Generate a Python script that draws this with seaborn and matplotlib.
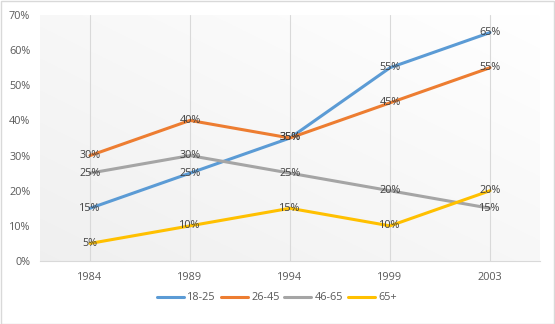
import numpy as np
import pandas as pd
import matplotlib
matplotlib.use("Agg")
import matplotlib.pyplot as plt
import seaborn as sns
from matplotlib.patches import Rectangle

years = ["1984", "1989", "1994", "1999", "2003"]
series_names = ["18-25", "26-45", "46-65", "65+"]
v_18_25 = [15, 25, 35, 55, 65]
v_26_45 = [30, 40, 35, 45, 55]
v_46_65 = [25, 30, 25, 20, 15]
v_65p = [5, 10, 15, 10, 20]
y_ticks = [0, 10, 20, 30, 40, 50, 60, 70]

colors = ["#5B9BD5", "#ED7D31", "#A5A5A5", "#FFC000"]

rows = []
for name, vals in zip(series_names, [v_18_25, v_26_45, v_46_65, v_65p]):
    for i, (yr, v) in enumerate(zip(years, vals)):
        rows.append({"idx": i, "year": yr, "value": v, "group": name})
df = pd.DataFrame(rows)

sns.set_theme(style="white")
plt.rcParams["font.family"] = ["Open Sans", "DejaVu Sans"]

FS = 7.8
W, H = 555, 324
fig = plt.figure(figsize=(W / 100, H / 100), dpi=100)
ax = fig.add_axes([40 / W, (H - 261) / H, 500 / W, (261 - 15) / H])

# gradient background (white top-right to light gray bottom-left)
gx, gy = np.meshgrid(np.linspace(0, 1, 200), np.linspace(0, 1, 200))
g = np.clip((gx + (1 - gy)) / 2, 0, 1)
grad = 1 - 0.06 * (1 - g)
rgb = np.dstack([grad, grad, grad])
ax.imshow(rgb, extent=[0, 1, 0, 1], transform=ax.transAxes, aspect="auto",
          zorder=0, origin="upper")

sns.lineplot(data=df, x="idx", y="value", hue="group", palette=colors,
             linewidth=2.2, ax=ax, zorder=3, sort=False)

for name, vals in zip(series_names, [v_18_25, v_26_45, v_46_65, v_65p]):
    for i, v in enumerate(vals):
        ax.text(i, v, f"{v}%", ha="center", va="center", fontsize=FS,
                color="#404040", zorder=5)

ax.set_xlim(-0.5, len(years) - 0.5)
ax.set_ylim(0, 70)
ax.set_xticks(range(len(years)))
ax.set_xticklabels(years)
ax.set_yticks(y_ticks)
ax.set_yticklabels([f"{t}%" for t in y_ticks])
ax.tick_params(axis="both", labelsize=FS, labelcolor="#595959", length=0)
ax.tick_params(axis="x", pad=8)
ax.tick_params(axis="y", pad=7)
ax.set_xlabel("")
ax.set_ylabel("")
for i in range(len(years)):
    ax.axvline(i, color="#D9D9D9", linewidth=0.8, zorder=1)
for s in ["top", "right", "left"]:
    ax.spines[s].set_visible(False)
ax.spines["bottom"].set_color("#D9D9D9")
ax.spines["bottom"].set_linewidth(0.8)

handles, labels = ax.get_legend_handles_labels()
ax.legend(handles, labels, loc="center", bbox_to_anchor=(277 / W, (H - 298) / H),
          bbox_transform=fig.transFigure, ncol=4, frameon=False, fontsize=FS,
          handlelength=2.5, handletextpad=0.3, columnspacing=0.45,
          labelcolor="#595959")

fig.patches.append(Rectangle((0.5 / W, 0.5 / H), 1 - 1.5 / W, 1 - 1.5 / H,
                             transform=fig.transFigure, fill=False,
                             edgecolor="#D9D9D9", linewidth=1))

fig.savefig("out.png", dpi=100)
